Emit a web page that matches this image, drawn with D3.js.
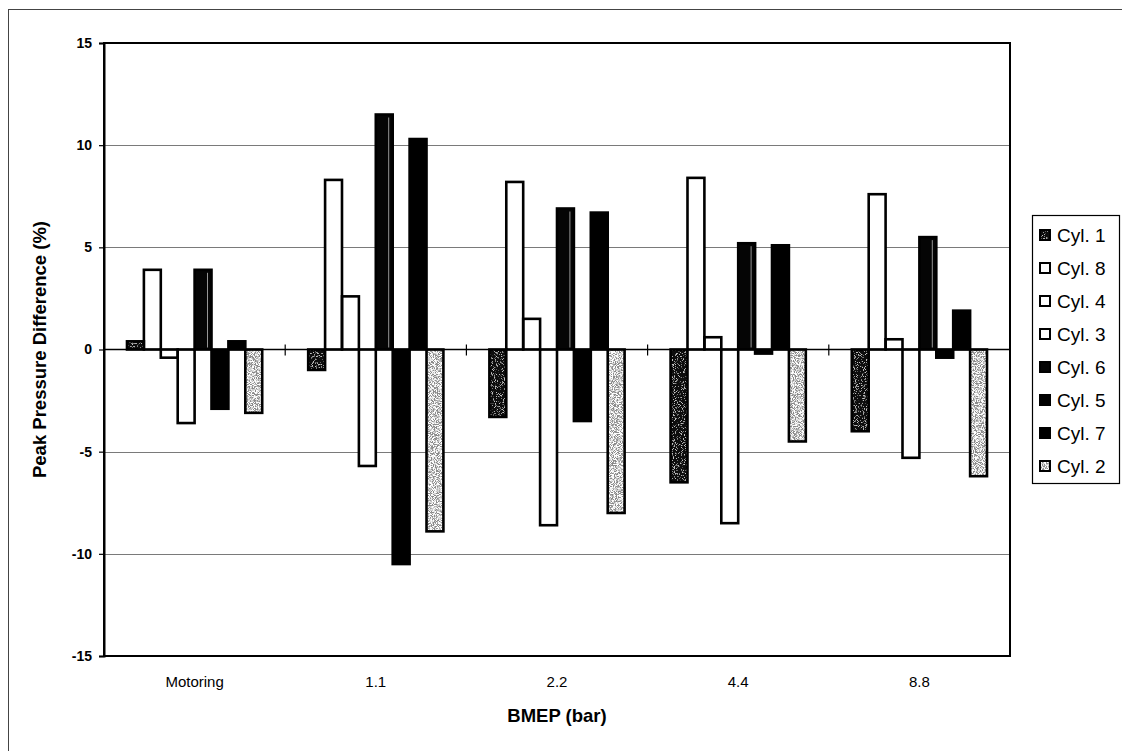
<!DOCTYPE html>
<html>
<head>
<meta charset="utf-8">
<script src="https://cdn.jsdelivr.net/npm/d3@7/dist/d3.min.js"></script>
<style>
  html, body { margin: 0; padding: 0; background: #fff; }
  svg { display: block; font-family: Arial, "Liberation Sans", sans-serif; }
</style>
</head>
<body>
<svg id="chart" width="1122" height="751"></svg>
<script>
// Operating points along the x axis
const categories = ["Motoring", "1.1", "2.2", "4.4", "8.8"];

// Cylinders in legend order
const cylinders = ["Cyl. 1", "Cyl. 8", "Cyl. 4", "Cyl. 3", "Cyl. 6", "Cyl. 5", "Cyl. 7", "Cyl. 2"];

// Peak pressure difference (%) per cylinder, one value per operating point
const cyl1 = [0.4, -1.0, -3.3, -6.5, -4.0];
const cyl8 = [3.9, 8.3, 8.2, 8.4, 7.6];
const cyl4 = [-0.4, 2.6, 1.5, 0.6, 0.5];
const cyl3 = [-3.6, -5.7, -8.6, -8.5, -5.3];
const cyl6 = [3.9, 11.5, 6.9, 5.2, 5.5];
const cyl5 = [-2.9, -10.5, -3.5, -0.2, -0.4];
const cyl7 = [0.4, 10.3, 6.7, 5.1, 1.9];
const cyl2 = [-3.1, -8.9, -8.0, -4.5, -6.2];

const yTicks = [-15, -10, -5, 0, 5, 10, 15];

const seriesValues = [cyl1, cyl8, cyl4, cyl3, cyl6, cyl5, cyl7, cyl2];

// Fill styling per cylinder (some fills get a speckle filter)
const fills = {
  "Cyl. 1": "#111111",
  "Cyl. 8": "#ffffff",
  "Cyl. 4": "#ffffff",
  "Cyl. 3": "#ffffff",
  "Cyl. 6": "#050505",
  "Cyl. 5": "#000000",
  "Cyl. 7": "#000000",
  "Cyl. 2": "#8a8a8a"
};
const textures = { "Cyl. 1": "url(#grainDark)", "Cyl. 2": "url(#grainLight)" };

const svg = d3.select("#chart");

// Frame around the whole figure
svg.append("rect")
  .attr("x", 8.5).attr("y", 9.5)
  .attr("width", 1300).attr("height", 900)
  .attr("fill", "none").attr("stroke", "#444").attr("stroke-width", 1);

// Speckle textures: dots scattered inside the shape
const defs = svg.append("defs");
function speckle(id, shade, slope, offset, seed) {
  const f = defs.append("filter").attr("id", id)
    .attr("x", 0).attr("y", 0).attr("width", 1).attr("height", 1);
  f.append("feTurbulence").attr("type", "fractalNoise")
    .attr("baseFrequency", 1.1).attr("numOctaves", 2).attr("seed", seed).attr("result", "noise");
  f.append("feColorMatrix").attr("in", "noise").attr("type", "matrix")
    .attr("values", `0 0 0 0 ${shade}  0 0 0 0 ${shade}  0 0 0 0 ${shade}  0 0 0 ${slope} ${offset}`)
    .attr("result", "specks");
  f.append("feComposite").attr("in", "specks").attr("in2", "SourceGraphic")
    .attr("operator", "in").attr("result", "inside");
  const m = f.append("feMerge");
  m.append("feMergeNode").attr("in", "SourceGraphic");
  m.append("feMergeNode").attr("in", "inside");
}
speckle("grainDark", 0.55, -7, 3.0, 4);
speckle("grainLight", 1, -5, 3.0, 7);

const plot = { left: 104, right: 1010, top: 43, bottom: 656 };

const x0 = d3.scaleBand().domain(categories).range([plot.left, plot.right]).padding(0);
const x1 = d3.scaleBand().domain(cylinders).range([0, x0.bandwidth()])
  .paddingInner(0).paddingOuter(1.36);
const y = d3.scaleLinear().domain([-15, 15]).range([plot.bottom, plot.top]);

// Horizontal gridlines
svg.append("g")
  .selectAll("line")
  .data(yTicks.filter(t => t !== 0 && Math.abs(t) !== 15))
  .join("line")
  .attr("x1", plot.left).attr("x2", plot.right)
  .attr("y1", d => Math.round(y(d)) + 0.5).attr("y2", d => Math.round(y(d)) + 0.5)
  .attr("stroke", "#7a7a7a").attr("stroke-width", 1);

// Bars: fill layer, then outline layer
const barData = cylinders.flatMap((c, i) =>
  seriesValues[i].map((v, j) => ({ cyl: c, cat: categories[j], value: v })));

const barX = d => x0(d.cat) + x1(d.cyl);
const barY = d => y(Math.max(0, d.value));
const barH = d => Math.abs(y(d.value) - y(0));

svg.append("g")
  .selectAll("rect")
  .data(barData)
  .join("rect")
  .attr("x", barX)
  .attr("width", x1.bandwidth())
  .attr("y", barY)
  .attr("height", barH)
  .attr("fill", d => fills[d.cyl])
  .attr("filter", d => textures[d.cyl] || null);

svg.append("g")
  .selectAll("rect")
  .data(barData)
  .join("rect")
  .attr("x", barX)
  .attr("width", x1.bandwidth())
  .attr("y", barY)
  .attr("height", barH)
  .attr("fill", "none")
  .attr("stroke", "#000")
  .attr("stroke-width", 2.6);

// Light inner edge on the Cyl. 6 bars
svg.append("g")
  .selectAll("line")
  .data(cyl6.map((v, j) => ({ cat: categories[j], value: v })))
  .join("line")
  .attr("x1", d => x0(d.cat) + x1("Cyl. 6") + x1.bandwidth() - 4)
  .attr("x2", d => x0(d.cat) + x1("Cyl. 6") + x1.bandwidth() - 4)
  .attr("y1", d => y(Math.max(0, d.value)) + 3)
  .attr("y2", d => y(Math.min(0, d.value)) - 2)
  .attr("stroke", "#bbb").attr("stroke-width", 0.8);

// Plot area frame
svg.append("rect")
  .attr("x", plot.left).attr("y", plot.top)
  .attr("width", plot.right - plot.left).attr("height", plot.bottom - plot.top)
  .attr("fill", "none").attr("stroke", "#000").attr("stroke-width", 2);

// Zero line with category separators
const y0 = y(0);
svg.append("line")
  .attr("x1", plot.left).attr("x2", plot.right)
  .attr("y1", y0).attr("y2", y0)
  .attr("stroke", "#000").attr("stroke-width", 1.5);
svg.append("g")
  .selectAll("line")
  .data(categories.slice(1))
  .join("line")
  .attr("x1", d => x0(d)).attr("x2", d => x0(d))
  .attr("y1", y0 - 5).attr("y2", y0 + 6)
  .attr("stroke", "#000").attr("stroke-width", 1.2);

// Y axis
const yAxis = svg.append("g")
  .attr("transform", `translate(${plot.left},0)`)
  .call(d3.axisLeft(y).tickValues(yTicks).tickFormat(d => String(d)).tickSize(5).tickPadding(7));
yAxis.select(".domain").attr("stroke", "#000").attr("stroke-width", 2);
yAxis.selectAll(".tick line").attr("stroke", "#000").attr("stroke-width", 1.2);
yAxis.selectAll(".tick text")
  .attr("font-size", 14).attr("font-weight", "bold").attr("fill", "#000")
  .attr("font-family", "Arial, 'Liberation Sans', sans-serif");

// X category labels
svg.append("g")
  .selectAll("text")
  .data(categories)
  .join("text")
  .attr("x", d => x0(d) + x0.bandwidth() / 2)
  .attr("y", 687)
  .attr("text-anchor", "middle")
  .attr("font-size", 15)
  .attr("fill", "#000")
  .text(d => d);

// Axis titles
svg.append("text")
  .attr("transform", `translate(46,${(plot.top + plot.bottom) / 2}) rotate(-90)`)
  .attr("text-anchor", "middle")
  .attr("font-size", 18.5).attr("font-weight", "bold")
  .text("Peak Pressure Difference (%)");

svg.append("text")
  .attr("x", (plot.left + plot.right) / 2)
  .attr("y", 722)
  .attr("text-anchor", "middle")
  .attr("font-size", 18.5).attr("font-weight", "bold")
  .text("BMEP (bar)");

// Legend
const legend = svg.append("g");
legend.append("rect")
  .attr("x", 1032.5).attr("y", 215.5)
  .attr("width", 87).attr("height", 268)
  .attr("fill", "#fff").attr("stroke", "#000").attr("stroke-width", 1.2);

const legendY = d3.scalePoint().domain(cylinders).range([235, 466]);
const items = legend.selectAll("g.item")
  .data(cylinders)
  .join("g")
  .attr("class", "item")
  .attr("transform", d => `translate(1039,${legendY(d)})`);
items.append("rect")
  .attr("x", 1).attr("y", -5)
  .attr("width", 10).attr("height", 10)
  .attr("fill", d => fills[d])
  .attr("filter", d => textures[d] || null);
items.append("rect")
  .attr("x", 1).attr("y", -5)
  .attr("width", 10).attr("height", 10)
  .attr("fill", "none")
  .attr("stroke", "#000").attr("stroke-width", 2);
items.append("text")
  .attr("x", 18).attr("y", 7)
  .attr("font-size", 19)
  .attr("fill", "#000")
  .text(d => d);
</script>
</body>
</html>
